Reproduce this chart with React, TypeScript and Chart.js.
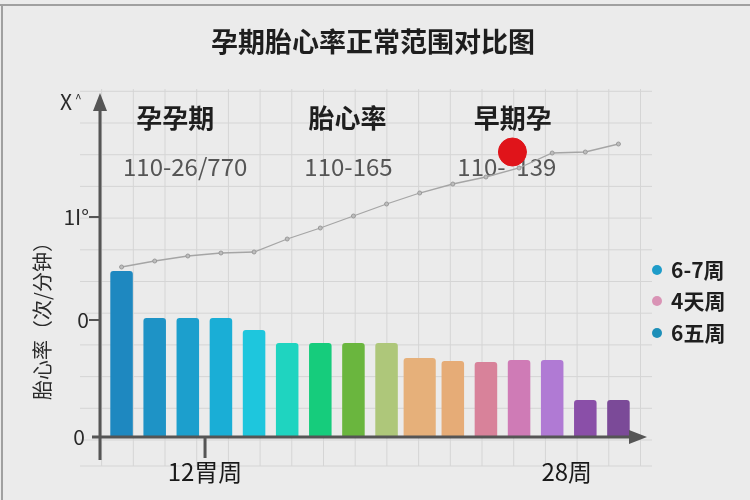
import { useEffect, useRef } from "react";
import Chart from "chart.js/auto";

// values (y in 次/分, 170 at the top of the plot)
const title = "孕期胎心率正常范围对比图";
const categories = [
  "第1组", "第2组", "第3组", "第4组", "第5组", "第6组", "第7组", "第8组",
  "第9组", "第10组", "第11组", "第12组", "第13组", "第14组", "第15组", "第16组",
];
const barValues = [83, 59.5, 59.5, 59.5, 53.5, 47, 47, 47, 47, 39.5, 38, 37.5, 38.5, 38.5, 18.5, 18.5];
const barColors = [
  "#1e88c0", "#1e93c6", "#1c9fcd", "#1aaed6", "#1ec6dd", "#1fd4c0", "#16cc7c", "#6ab63e",
  "#aec77a", "#e6b07a", "#e6ac77", "#d8829a", "#cf7bb6", "#b07ad4", "#8a4fa8", "#7b4a98",
];
const wideBarIndex = 9;
const lineValues = [85, 88, 90.5, 92, 92.5, 99, 104.5, 110.5, 116.5, 122, 126.5, 130, 134.5, 142, 142.5, 146.5];
const markerPoint = { x: 11.8, y: 142.5 };

const headerLabels = ["孕孕期", "胎心率", "早期孕"];
const rangeLabels = ["110-26/770", "110-165", "110-  139"];
const xTickLabels = ["12胃周", "28周"];
const yTickValues = [0, 58.5, 110];
const yTickLabels = ["0", "0", "1I°"];
const legendLabels = ["6-7周", "4天周", "6五周"];
const legendColors = ["#1e9cc9", "#d993b5", "#1d8fb8"];
const yTitle = "胎心率（次/分钟）";

// where the texts sit, in data units of the plot
const headerAt = [1.62, 6.82, 11.81];
const headerY = 159.5;
const rangeAt = [1.92, 6.85, 11.63];
const rangeY = 135;
const xTickAt = [2.52, 13.44];

const FONT = "'Noto Sans CJK SC', 'Noto Sans', sans-serif";

const decor = {
  id: "decor",
  beforeDraw(chart: any) {
    const { ctx, width, height } = chart;
    ctx.save();
    ctx.fillStyle = "#ebebeb";
    ctx.fillRect(0, 0, width, height);

    // graph paper behind everything
    ctx.strokeStyle = "#d5d5d5";
    ctx.lineWidth = 1;
    const step = 31.7;
    ctx.beginPath();
    for (let x = 101.6; x <= 642; x += step) {
      ctx.moveTo(x, 89);
      ctx.lineTo(x, 466);
    }
    for (let y = 440; y >= 88; y -= step) {
      ctx.moveTo(80, y);
      ctx.lineTo(652, y);
    }
    ctx.moveTo(80, 466);
    ctx.lineTo(652, 466);
    ctx.stroke();

    // frame
    ctx.strokeStyle = "#a0a0a0";
    ctx.lineWidth = 2;
    ctx.beginPath();
    ctx.moveTo(0, 5);
    ctx.lineTo(width, 5);
    ctx.moveTo(2, 5);
    ctx.lineTo(2, height);
    ctx.stroke();

    // title
    ctx.fillStyle = "#1e1e1e";
    ctx.font = `bold 27px ${FONT}`;
    ctx.textAlign = "center";
    ctx.textBaseline = "middle";
    ctx.fillText(title, 373, 42);
    ctx.restore();
  },
  beforeDatasetsDraw(chart: any) {
    const { ctx } = chart;
    const xs = chart.scales.x2;
    const ys = chart.scales.y;
    ctx.save();
    ctx.textAlign = "center";
    ctx.textBaseline = "middle";
    ctx.fillStyle = "#1e1e1e";
    ctx.font = `bold 26px ${FONT}`;
    headerLabels.forEach((t, i) => {
      ctx.fillText(t, xs.getPixelForValue(headerAt[i]), ys.getPixelForValue(headerY));
    });
    ctx.fillStyle = "#555";
    ctx.font = `24px ${FONT}`;
    rangeLabels.forEach((t, i) => {
      ctx.fillText(t, xs.getPixelForValue(rangeAt[i]), ys.getPixelForValue(rangeY));
    });
    ctx.restore();
  },
  afterDatasetsDraw(chart: any) {
    const { ctx, chartArea } = chart;
    const xs = chart.scales.x2;
    const ys = chart.scales.y;
    const ax = chartArea.left - 5;
    const base = ys.getPixelForValue(0);
    ctx.save();
    ctx.strokeStyle = "#555";
    ctx.fillStyle = "#555";
    ctx.lineWidth = 3;
    ctx.beginPath();
    ctx.moveTo(ax, 460);
    ctx.lineTo(ax, 106);
    ctx.moveTo(92, base);
    ctx.lineTo(632, base);
    xTickAt.slice(0, 1).forEach((v) => {
      const px = xs.getPixelForValue(v);
      ctx.moveTo(px, base);
      ctx.lineTo(px, base + 21);
    });
    ctx.stroke();
    // arrow heads
    ctx.beginPath();
    ctx.moveTo(ax, 93);
    ctx.lineTo(ax - 7, 111);
    ctx.lineTo(ax + 7, 111);
    ctx.closePath();
    ctx.moveTo(647, base);
    ctx.lineTo(629, base - 7);
    ctx.lineTo(629, base + 7);
    ctx.closePath();
    ctx.fill();

    // y ticks
    ctx.lineWidth = 2;
    ctx.beginPath();
    yTickValues.forEach((v) => {
      if (v === 0) return;
      const py = ys.getPixelForValue(v);
      ctx.moveTo(ax - 11, py);
      ctx.lineTo(ax, py);
    });
    ctx.stroke();
    ctx.fillStyle = "#2a2a2a";
    ctx.font = `21px ${FONT}`;
    ctx.textAlign = "right";
    ctx.textBaseline = "middle";
    yTickLabels.forEach((t, i) => {
      ctx.fillText(t, ax - (yTickValues[i] === 0 ? 15 : 11), ys.getPixelForValue(yTickValues[i]));
    });
    ctx.textAlign = "left";
    ctx.font = `21px ${FONT}`;
    ctx.fillText("X", 60, 102);
    ctx.font = `12px ${FONT}`;
    ctx.fillText("^", 75, 98);

    // y title
    ctx.save();
    ctx.translate(42, 316);
    ctx.rotate(-Math.PI / 2);
    ctx.textAlign = "center";
    ctx.font = `20px ${FONT}`;
    ctx.fillText(yTitle, 0, 0);
    ctx.restore();

    // x labels
    ctx.textAlign = "center";
    ctx.font = `24px ${FONT}`;
    ctx.fillStyle = "#1a1a1a";
    xTickLabels.forEach((t, i) => {
      ctx.fillText(t, xs.getPixelForValue(xTickAt[i]), 472);
    });

    // legend
    const lx = chartArea.right + 22;
    const rows = [270, 301, 333];
    ctx.textAlign = "left";
    ctx.font = `bold 21px ${FONT}`;
    legendLabels.forEach((t, i) => {
      ctx.fillStyle = legendColors[i];
      ctx.beginPath();
      ctx.arc(lx, rows[i], 5, 0, Math.PI * 2);
      ctx.fill();
      ctx.fillStyle = "#1e1e1e";
      ctx.fillText(t, lx + 14, rows[i]);
    });
    ctx.restore();
  },
};

export default function App() {
  const ref = useRef<HTMLCanvasElement>(null);

  useEffect(() => {
    document.body.style.margin = "0";
    let chart: Chart | undefined;
    if (ref.current) {
      const narrow = barValues.map((v, i) => (i === wideBarIndex ? null : v));
      const wide = barValues.map((v, i) => (i === wideBarIndex ? v : null));
      chart = new Chart(ref.current, {
        type: "bar",
        data: {
          labels: categories,
          datasets: [
            {
              type: "line",
              label: "标记",
              data: [markerPoint] as any,
              xAxisID: "x2",
              showLine: false,
              pointRadius: 14,
              pointBackgroundColor: "#e0141a",
              pointBorderColor: "#e0141a",
              order: 0,
            },
            {
              type: "line",
              label: "趋势",
              data: lineValues,
              borderColor: "#a5a5a5",
              borderWidth: 1.3,
              pointRadius: 2,
              pointBackgroundColor: "#bdbdbd",
              pointBorderColor: "#9a9a9a",
              pointBorderWidth: 1,
              tension: 0,
              order: 1,
            },
            {
              label: "胎心率",
              data: narrow,
              backgroundColor: barColors,
              barPercentage: 0.68,
              categoryPercentage: 1,
              grouped: false,
              borderRadius: 3,
              order: 2,
            },
            {
              label: "胎心率2",
              data: wide,
              backgroundColor: barColors,
              barPercentage: 0.97,
              categoryPercentage: 1,
              grouped: false,
              borderRadius: 3,
              order: 3,
            },
          ] as any,
        },
        options: {
          responsive: false,
          animation: false,
          events: [],
          layout: { padding: { left: 105, right: 115, top: 97, bottom: 63 } },
          plugins: { legend: { display: false }, tooltip: { enabled: false } },
          scales: {
            x: { display: false, offset: true },
            x2: {
              type: "linear",
              axis: "x",
              display: false,
              offset: false,
              grid: { offset: false },
              min: -0.5,
              max: 15.5,
            },
            y: { display: false, min: 0, max: 170 },
          },
        },
        plugins: [decor],
      });
    }
    return () => {
      chart?.destroy();
    };
  }, []);

  return (
    <div style={{ width: 750, height: 500, background: "#ebebeb" }}>
      <canvas ref={ref} width={750} height={500} />
    </div>
  );
}
